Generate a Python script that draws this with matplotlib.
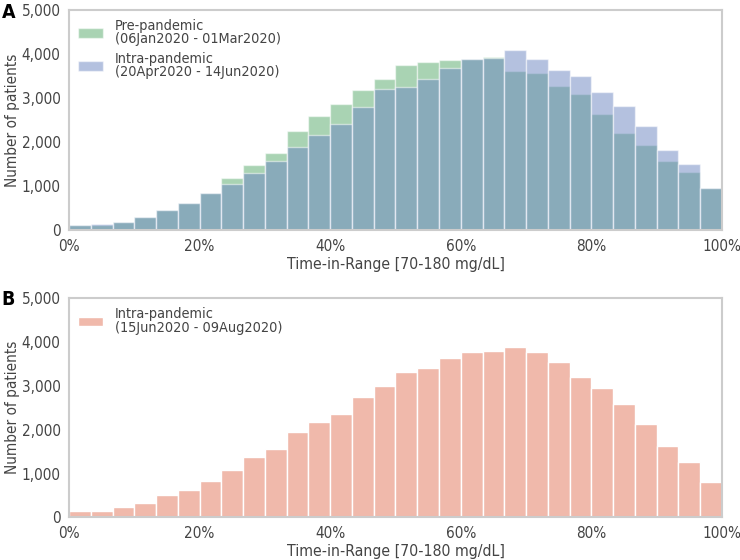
import matplotlib
matplotlib.use("Agg")
import matplotlib.pyplot as plt
from matplotlib.ticker import FuncFormatter, MultipleLocator
import numpy as np

plt.rcParams['font.family'] = ['DejaVu Sans']
plt.rcParams['font.stretch'] = 'condensed'

# 30 bins over 0-100 % time-in-range
bin_edges = np.linspace(0, 100, 31)

pre_pandemic = [130, 120, 200, 312, 460, 615, 850, 1195, 1482, 1760,
                2251, 2584, 2862, 3172, 3428, 3738, 3812, 3851, 3880, 3930,
                3609, 3557, 3276, 3081, 2643, 2213, 1934, 1572, 1324, 968]
intra_pandemic_1 = [124, 147, 199, 312, 457, 629, 842, 1052, 1308, 1572,
                    1889, 2161, 2410, 2787, 3195, 3240, 3428, 3683, 3870, 3910,
                    4077, 3887, 3624, 3489, 3140, 2824, 2364, 1814, 1504, 968]
intra_pandemic_2 = [148, 148, 246, 330, 511, 633, 830, 1087, 1383, 1557,
                    1951, 2170, 2360, 2739, 2989, 3314, 3398, 3625, 3761, 3784,
                    3882, 3761, 3534, 3200, 2936, 2572, 2132, 1633, 1261, 814]

label_pre = "Pre-pandemic\n(06Jan2020 - 01Mar2020)"
label_intra1 = "Intra-pandemic\n(20Apr2020 - 14Jun2020)"
label_intra2 = "Intra-pandemic\n(15Jun2020 - 09Aug2020)"

xlabel = "Time-in-Range [70-180 mg/dL]"
ylabel = "Number of patients"

fig = plt.figure(figsize=(7.4, 5.6), dpi=100)
axA = fig.add_axes([0.0932, 0.5884, 0.8825, 0.3946])
axB = fig.add_axes([0.0932, 0.0759, 0.8825, 0.3925])

left = bin_edges[:-1]
width = np.diff(bin_edges)

axA.bar(left, pre_pandemic, width=width, align='edge', color='#55a868', alpha=0.5,
        edgecolor='white', linewidth=1, label=label_pre)
axA.bar(left, intra_pandemic_1, width=width, align='edge', color='#6a85c1', alpha=0.5,
        edgecolor='white', linewidth=1, label=label_intra1)
axB.bar(left, intra_pandemic_2, width=width, align='edge', color='#f0b9ab',
        edgecolor='white', linewidth=1, label=label_intra2)

for ax in (axA, axB):
    ax.set_xlim(0, 100)
    ax.set_ylim(0, 5000)
    ax.xaxis.set_major_locator(MultipleLocator(20))
    ax.yaxis.set_major_locator(MultipleLocator(1000))
    ax.xaxis.set_major_formatter(FuncFormatter(lambda v, p: f"{v:.0f}%"))
    ax.yaxis.set_major_formatter(FuncFormatter(lambda v, p: f"{v:,.0f}"))
    ax.tick_params(length=0, labelsize=11, colors='#444444', pad=6)
    for s in ax.spines.values():
        s.set_color('#cccccc')
        s.set_linewidth(1.5)
    ax.set_xlabel(xlabel, fontsize=11.3, color='#444444', labelpad=2)
    ax.set_ylabel(ylabel, fontsize=11, color='#444444')
    ax.yaxis.set_label_coords(-0.075, 0.5)
    leg = ax.legend(loc='upper left', frameon=False, fontsize=10.4,
                    handlelength=1.7, handleheight=0.6, labelspacing=0.38,
                    borderaxespad=0.25, handletextpad=0.85)
    for t in leg.get_texts():
        t.set_color('#444444')
        t.set_linespacing(0.95)

fig.text(0.002, 0.978, "A", fontsize=14, fontweight='bold', va='center', ha='left')
fig.text(0.002, 0.466, "B", fontsize=14, fontweight='bold', va='center', ha='left')

fig.savefig("out.png", dpi=100)
